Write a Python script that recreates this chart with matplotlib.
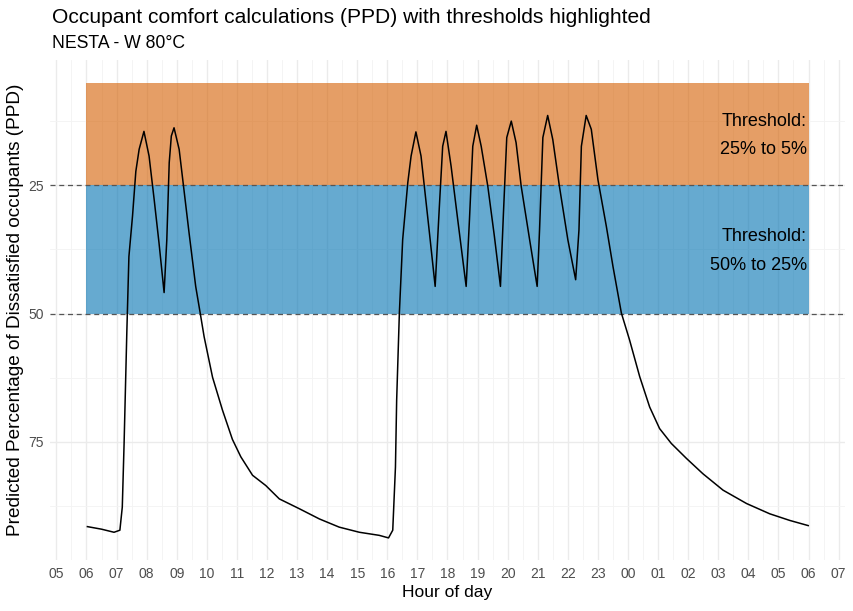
import matplotlib
matplotlib.use("Agg")
import matplotlib.pyplot as plt
import numpy as np

plt.rcParams['font.family'] = ['Liberation Sans', 'DejaVu Sans']

# hours after 06:00 and PPD (%)
hours = [0.03, 0.5, 0.915, 1.11, 1.19, 1.25, 1.34, 1.41, 1.53, 1.64, 1.75, 1.91,
         2.08, 2.25, 2.41, 2.58, 2.67, 2.75, 2.82, 2.91,
         3.08, 3.22, 3.41, 3.63, 3.78, 3.91, 4.19, 4.52, 4.85, 5.13, 5.52, 5.96,
         6.41, 7.07, 7.74, 8.40, 9.07, 9.73, 10.04, 10.18, 10.27, 10.31, 10.40,
         10.51, 10.68, 10.79, 10.95, 11.12, 11.23, 11.40, 11.59,
         11.73, 11.84, 11.95, 12.12, 12.34, 12.62,
         12.73, 12.84, 12.97, 13.12, 13.34, 13.56, 13.76,
         13.86, 13.97, 14.12, 14.28, 14.45, 14.73, 14.98,
         15.06, 15.17, 15.33, 15.50, 15.72, 16.00, 16.26,
         16.37, 16.45, 16.61, 16.78, 17.00, 17.28, 17.50, 17.78,
         18.05, 18.39, 18.72, 19.05, 19.44, 19.94, 20.49, 21.16, 21.94,
         22.71, 23.38, 23.99]
ppd = [91.5, 92.0, 92.6, 92.2, 87.7, 75.3, 53.8, 38.9, 31.0, 22.3, 18.0, 14.5,
       19.3, 27.8, 36.2, 45.9, 35.6, 20.6, 15.4, 13.8,
       18.0, 24.9, 34.3, 44.7, 49.9, 54.5, 62.4, 68.8, 74.5, 77.9, 81.5, 83.5,
       86.1, 88.0, 90.0, 91.6, 92.6, 93.2, 93.7, 92.2, 79.9, 66.9, 49.9,
       35.6, 24.5, 19.3, 14.6, 19.3, 25.2, 34.3, 44.7,
       29.1, 17.4, 14.5, 21.3, 31.7, 44.7,
       31.7, 17.4, 13.3, 17.4, 25.2, 35.0, 44.7,
       30.4, 15.7, 12.5, 16.7, 25.2, 35.6, 44.7,
       33.7, 15.7, 11.4, 16.1, 25.2, 35.6, 43.4,
       33.7, 17.4, 11.4, 14.1, 23.9, 33.0, 40.8, 49.9,
       55.1, 62.3, 68.2, 72.4, 75.3, 78.2, 81.2, 84.4, 87.0,
       89.0, 90.3, 91.3]

tick_hours = list(range(-1, 26))
tick_labels = ['%02d' % ((6 + h) % 24) for h in tick_hours]

bands = [(5, 25, '#D55E00', 'Threshold:\n25% to 5%'),
         (25, 50, '#0072B2', 'Threshold:\n50% to 25%')]

fig = plt.figure(figsize=(8.54, 6.11), dpi=100)
ax = fig.add_axes([0.059, 0.0835, 0.930, 0.8185])

# grid like theme_minimal
for h in tick_hours:
    ax.axvline(h, color='#EBEBEB', lw=1.0, zorder=0)
    ax.axvline(h + 0.5, color='#F3F3F3', lw=0.6, zorder=0)
for v in [25, 50, 75]:
    ax.axhline(v, color='#EBEBEB', lw=1.0, zorder=0)
for v in [12.5, 37.5, 62.5, 87.5]:
    ax.axhline(v, color='#F3F3F3', lw=0.6, zorder=0)

for lo, hi, col, label in bands:
    ax.fill_between([0, 24], lo, hi, color=col, alpha=0.6, lw=0, zorder=1)
    ax.text(23.95, (lo + hi) / 2 + 0.3, label, ha='right', va='center',
            fontsize=13, linespacing=1.85, zorder=4)

for v in [25, 50]:
    ax.axhline(v, color='#555555', lw=0.9, ls=(0, (4, 3)), zorder=2)

ax.plot(hours, ppd, color='black', lw=1.1, zorder=3)

ax.set_xlim(-1.2, 25.2)
ax.set_ylim(98.0, 0.57)
ax.set_xticks(tick_hours)
ax.set_xticklabels(tick_labels)
ax.set_yticks([25, 50, 75])
ax.tick_params(length=0, labelsize=10, labelcolor='#4D4D4D', pad=5)
for s in ax.spines.values():
    s.set_visible(False)
ax.grid(False)

ax.set_xlabel('Hour of day', fontsize=12.5, labelpad=3)
ax.set_ylabel('Predicted Percentage of Dissatisfied occupants (PPD)', fontsize=13.7, labelpad=3)

fig.text(0.061, 0.972, 'Occupant comfort calculations (PPD) with thresholds highlighted',
         fontsize=15.1, va='center', ha='left')
fig.text(0.061, 0.929, 'NESTA - W 80°C', fontsize=12.7, va='center', ha='left')

fig.savefig('out.png', dpi=100)
